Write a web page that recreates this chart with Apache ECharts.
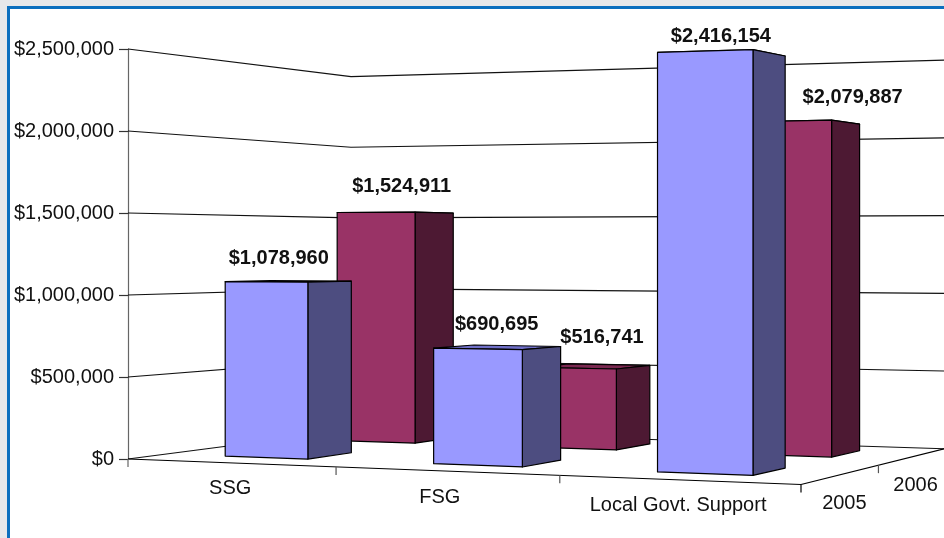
<!DOCTYPE html>
<html>
<head>
<meta charset="utf-8">
<title>Funding by category</title>
<script src="https://cdn.jsdelivr.net/npm/echarts@6/dist/echarts.min.js"></script>
<style>
    html, body { margin: 0; height: 100%; overflow: hidden; background: #e6e8ea; }
    #panel { position: absolute; left: 7px; top: 6px; width: 1000px; height: 600px; background: #fff; border: 3px solid #0b6fbe; }
    #chart1 { position: absolute; left: 0; top: 0; width: 944px; height: 538px; }
</style>
</head>
<body>
<div id="panel"></div>
<div id="chart1"></div>
<script>
const categories = ['SSG', 'FSG', 'Local Govt. Support'];
const years = ['2005', '2006'];
const values2005 = [1078960, 690695, 2416154];
const values2006 = [1524911, 516741, 2079887];
const valueTicks = [0, 500000, 1000000, 1500000, 2000000, 2500000];

const FONT = 'Liberation Sans';
const LABEL_SIZE = 20;

// floor of the box: front edge sits on the grid, perspective comes from these
const gridLeft = 128, gridRight = 801, gridTop = 49, gridBottom = 459;
const frontRightY = 484.5, backLeftX = 351, backLeftY = 430;
const perspU = -0.105, perspW = 0.16;

// bar sizes in floor units, 0..1 each way
const barHalf = 0.0675;
const depthBands = { 2005: [0.155, 0.35], 2006: [0.665, 0.865] };
const barShift = { 2005: -0.002, 2006: -0.004 };

// where the data labels were dragged to, relative to the top centre of the bar
const labelNudge = {
    2005: [[-10, -23], [-1, -23], [-1, -18]],
    2006: [[6, -26], [10, -29], [51, -25]]
};

const colors = {
    2005: { front: '#9999ff', side: '#4d4d80', top: '#6f6fc8' },
    2006: { front: '#993366', side: '#4d1933', top: '#7a2850' }
};

// u across the categories, w into the depth, h = pixel height on the front-left edge
const project = (u, w, h) => {
    const d = 1 + perspU * u + perspW * w;
    const cx = gridRight * (1 + perspU) - gridLeft;
    const cy = frontRightY * (1 + perspU) - gridBottom;
    const dx = backLeftX * (1 + perspW) - gridLeft;
    const dy = backLeftY * (1 + perspW) - gridBottom;
    return [(gridLeft + cx * u + dx * w) / d, (gridBottom + cy * u + dy * w - h) / d];
};

const heightOf = (api, value) => api.coord([0, 0])[1] - api.coord([0, value])[1];
const catU = (api, i) => (api.coord([i, 0])[0] - gridLeft) / (gridRight - gridLeft);

const line = (points, color) => ({
    type: 'polyline',
    shape: { points: points },
    style: { stroke: color || '#111', lineWidth: 1.2, fill: null }
});

const label = (text, pos, bold) => ({
    type: 'text',
    style: {
        text: text, x: pos[0], y: pos[1],
        align: 'center', verticalAlign: 'middle',
        fill: '#111', font: (bold ? 'bold ' : '') + LABEL_SIZE + 'px "' + FONT + '"'
    }
});

const renderWallLine = (params, api) => {
    const h = heightOf(api, api.value(1));
    return line([project(0, 0, h), project(0, 1, h), project(1.005, 1, h)]);
};

const renderFloor = (params, api) => {
    const tick = (p, len, color) => line([p, [p[0], p[1] + len]], color);
    const front1 = project(1 / 3, 0, 0), front2 = project(2 / 3, 0, 0);
    const corner = project(1, 0, 0);
    const children = [
        line([project(0, 0, 0), corner], '#000'),
        line([corner, project(1, 1, 0)], '#000'),
        line([[gridLeft, gridBottom], [gridLeft, gridBottom + 8]], '#666'),
        tick(front1, 8, '#555'),
        tick(front2, 8, '#555'),
        tick(corner, 8, '#000'),
        tick(project(1, 0.5, 0), 8, '#555')
    ];
    categories.forEach((name, i) => {
        const p = project(catU(api, i), 0, 0);
        children.push(label(name, [p[0] - (i === 1 ? 6 : 0), p[1] + 26]));
    });
    years.forEach((year, i) => {
        const p = project(1, 0.25 + i * 0.5, 0);
        children.push(label(year, [p[0] + 3, p[1] + 29]));
    });
    return { type: 'group', children: children };
};

const getBarRenderer = (year) => (params, api) => {
    const i = api.value(0), value = api.value(1);
    const h = heightOf(api, value);
    const u = catU(api, i) + barShift[year];
    const [w0, w1] = depthBands[year];
    const [u0, u1] = [u - barHalf, u + barHalf];
    const c = colors[year];
    const face = (points, fill) => ({
        type: 'polygon',
        shape: { points: points },
        style: { fill: fill, stroke: '#000', lineWidth: 1.2, lineJoin: 'round' }
    });
    const top = project(u, (w0 + w1) / 2, h);
    const nudge = labelNudge[year][i];
    return {
        type: 'group',
        children: [
            face([project(u0, w0, h), project(u1, w0, h), project(u1, w1, h), project(u0, w1, h)], c.top),
            face([project(u1, w0, 0), project(u1, w1, 0), project(u1, w1, h), project(u1, w0, h)], c.side),
            face([project(u0, w0, 0), project(u1, w0, 0), project(u1, w0, h), project(u0, w0, h)], c.front),
            label('$' + value.toLocaleString('en-US'), [top[0] + nudge[0], top[1] + nudge[1]], true)
        ]
    };
};

const barSeries = (year, values) => ({
    type: 'custom',
    name: year,
    renderItem: getBarRenderer(year),
    encode: { x: 0, y: 1 },
    data: values.map((v, i) => [i, v]),
    silent: true
});

const getOptionChart1 = () => {
    return {
        animation: false,
        grid: { left: gridLeft, right: 944 - gridRight, top: gridTop, bottom: 538 - gridBottom },
        xAxis: { type: 'category', data: categories, show: false },
        yAxis: {
            type: 'value',
            min: 0,
            max: 2500000,
            interval: 500000,
            axisLine: { show: true, lineStyle: { color: '#666', width: 1.2 } },
            axisTick: { show: true, length: 9, lineStyle: { color: '#333', width: 1.2 } },
            splitLine: { show: false },
            axisLabel: {
                margin: 14,
                padding: [3, 0, 0, 0],
                color: '#111',
                fontFamily: FONT,
                fontSize: LABEL_SIZE,
                formatter: (v) => '$' + v.toLocaleString('en-US')
            }
        },
        series: [
            {
                type: 'custom',
                renderItem: renderWallLine,
                encode: { x: 0, y: 1 },
                data: valueTicks.map((v) => [0, v]),
                silent: true
            },
            {
                type: 'custom',
                renderItem: renderFloor,
                encode: { x: 0, y: 1 },
                data: [[0, 0]],
                silent: true
            },
            barSeries('2006', values2006),
            barSeries('2005', values2005)
        ]
    };
};

let chart1;

const initCharts = () => {
    chart1 = echarts.init(document.getElementById('chart1'));
    chart1.setOption(getOptionChart1());
};

document.addEventListener('DOMContentLoaded', function () {
    initCharts();
});

window.addEventListener('resize', function () {
    chart1.resize();
});
</script>
</body>
</html>
